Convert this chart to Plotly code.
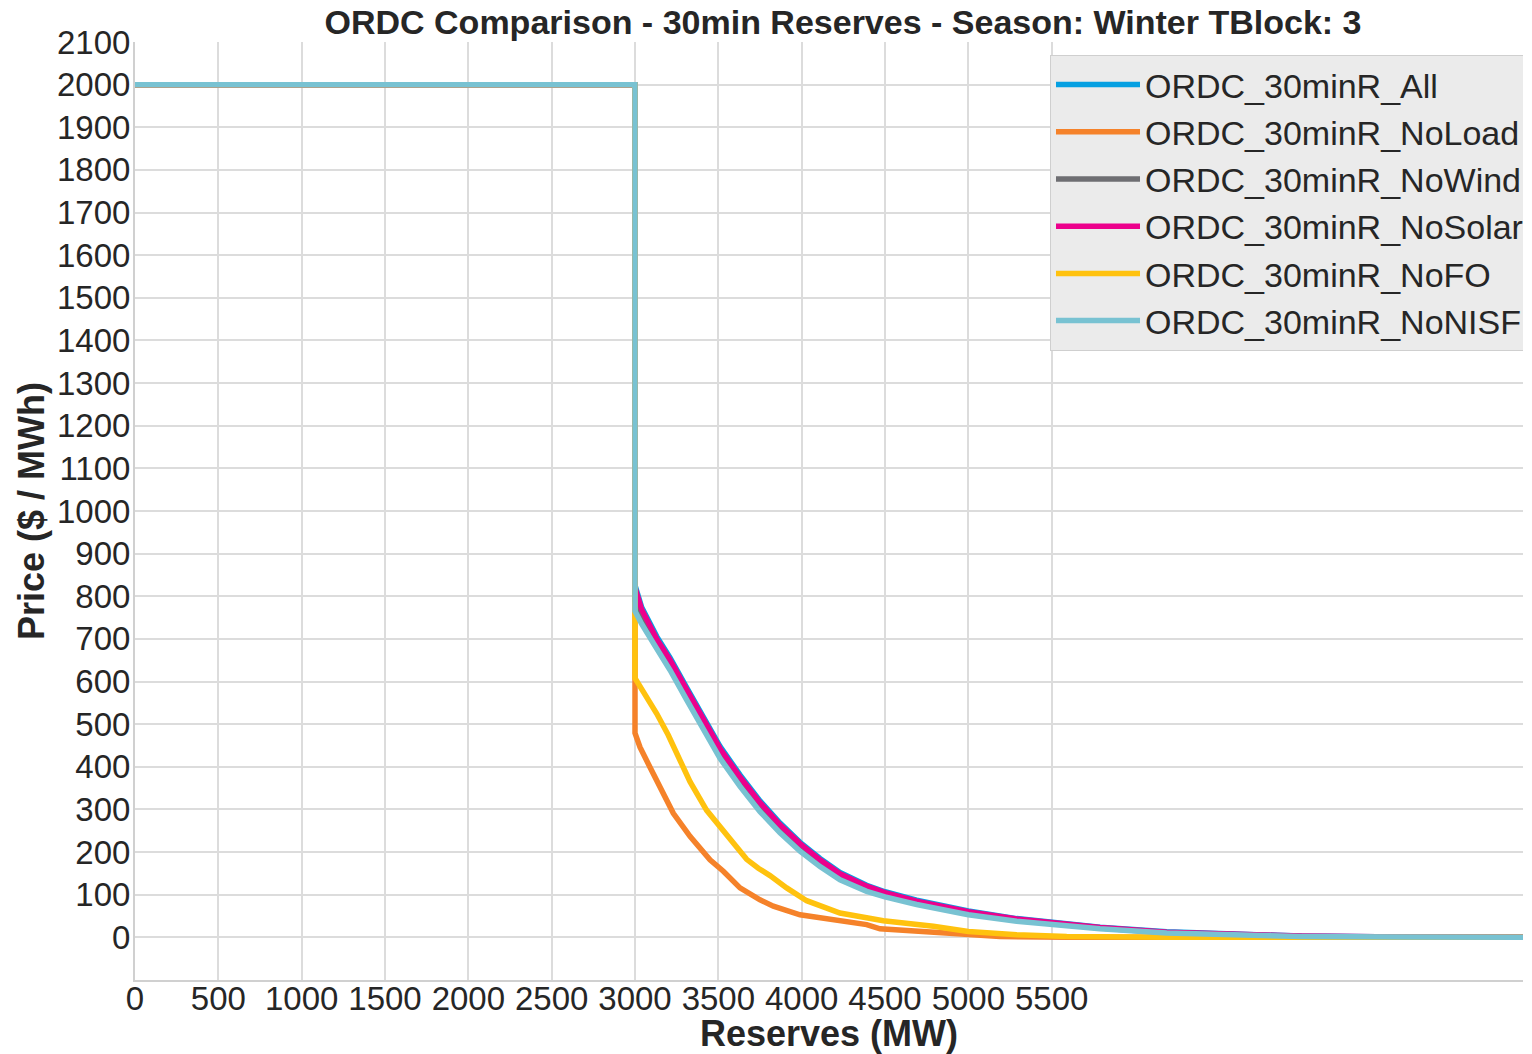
import plotly.graph_objects as go

# ---------------- data ----------------
series_names = ["ORDC_30minR_All", "ORDC_30minR_NoLoad", "ORDC_30minR_NoWind",
                "ORDC_30minR_NoSolar", "ORDC_30minR_NoFO", "ORDC_30minR_NoNISF"]

x_all = [0, 3000, 3000, 3040, 3130, 3210, 3310, 3410, 3510, 3630, 3750, 3870, 3990,
         4110, 4230, 4390, 4500, 4690, 5000, 5290, 5590, 5790, 6190, 6600, 7000, 7600, 8390]
y_all = [2000, 2000, 826, 774, 706, 656, 586, 516, 448, 381, 320, 268, 223,
         185, 152, 122, 107, 87, 62, 44, 31, 24, 13, 7, 3, 1, 0]

x_noload = [0, 3000, 3000, 3030, 3090, 3160, 3230, 3330, 3450, 3530, 3630, 3750, 3830,
            3990, 4190, 4390, 4470, 4790, 5000, 5190, 5600, 6200, 8390]
y_noload = [2000, 2000, 479, 446, 399, 345, 291, 237, 182, 155, 116, 88, 73,
            53, 41, 30, 20, 12, 6, 2, 0.5, 0, 0]

x_nowind = [0, 3000, 3000, 3040, 3130, 3210, 3310, 3410, 3510, 3630, 3750, 3870, 3990,
            4110, 4230, 4390, 4500, 4690, 5000, 5290, 5590, 5790, 6190, 6600, 7000, 7600, 8390]
y_nowind = [2000, 2000, 790, 752, 690, 640, 570, 500, 432, 366, 306, 256, 212,
            175, 143, 115, 101, 82, 57, 41, 28, 22, 11, 6, 2, 1, 0]

x_nosolar = [0, 3000, 3000, 3040, 3130, 3210, 3310, 3410, 3510, 3630, 3750, 3870, 3990,
             4110, 4230, 4390, 4500, 4690, 5000, 5290, 5590, 5790, 6190, 6600, 7000, 7600, 8390]
y_nosolar = [2000, 2000, 820, 769, 700, 651, 581, 511, 443, 376, 316, 264, 220,
             182, 149, 120, 105, 85, 60, 43, 30, 23, 12, 6, 3, 1, 0]

x_nofo = [0, 3000, 3000, 3060, 3130, 3200, 3260, 3330, 3430, 3510, 3590, 3670, 3740, 3810,
          3910, 4030, 4230, 4490, 4790, 5000, 5290, 5590, 6200, 8390]
y_nofo = [2000, 2000, 608, 572, 525, 474, 425, 365, 298, 258, 221, 183, 162, 145,
          116, 86, 57, 39, 26, 14, 6, 2, 0, 0]

x_nonisf = [0, 3000, 3000, 3040, 3110, 3210, 3310, 3410, 3510, 3630, 3750, 3870, 3990,
            4110, 4230, 4390, 4500, 4690, 5000, 5290, 5590, 5790, 6190, 6600, 7000, 7600, 8390]
y_nonisf = [2000, 2000, 765, 735, 690, 627, 557, 487, 420, 354, 295, 245, 202,
            166, 135, 108, 95, 77, 53, 38, 26, 20, 10, 5, 2, 1, 0]

x_ticks = [0, 500, 1000, 1500, 2000, 2500, 3000, 3500, 4000, 4500, 5000, 5500]
y_ticks = list(range(0, 2101, 100))

colors = ["#05a0e2", "#f5822a", "#6e6e72", "#ec008c", "#ffc20e", "#78c2d2"]

xs = [x_all, x_noload, x_nowind, x_nosolar, x_nofo, x_nonisf]
ys = [y_all, y_noload, y_nowind, y_nosolar, y_nofo, y_nonisf]

FONT = "Liberation Sans, Arial, sans-serif"
TXT = "#262626"

# the page body has an 8px margin, so the figure is laid out 8px up/left of screen px
W, H = 1515, 1046
L, T, B = 127, 34, 74
PW, PH = W - L, H - T - B
X_MAX = PW * 6  # keeps 500 MW per 83.3 px, as in the reference

fig = go.Figure()
for name, x, y, c in zip(series_names, xs, ys, colors):
    fig.add_trace(go.Scatter(x=x, y=y, mode="lines", name=name, legendgroup=name,
                             line=dict(color=c, width=5.5)))

fig.update_layout(
    width=W, height=H,
    margin=dict(l=L, r=0, t=T, b=B, pad=0, autoexpand=False),
    paper_bgcolor="white", plot_bgcolor="white",
    font=dict(family=FONT, color=TXT, size=33),
    title=dict(text="ORDC Comparison - 30min Reserves - Season: Winter TBlock: 3",
               font=dict(family=FONT, size=34, weight="bold", color=TXT),
               x=835 / W, xanchor="center", xref="container",
               y=1 - 14 / H, yanchor="middle", yref="container"),
    legend=dict(x=(1042 - L) / PW, y=(T + PH - 47) / PH, xanchor="left", yanchor="top",
                bgcolor="#ebebeb", bordercolor="#cfcfcf", borderwidth=1,
                font=dict(family=FONT, size=34, color=TXT),
                itemwidth=84, tracegroupgap=4, traceorder="normal"),
    showlegend=True,
)

fig.update_xaxes(range=[0, X_MAX], tickvals=x_ticks, ticktext=[str(v) for v in x_ticks],
                 showgrid=True, gridcolor="#dcdcdc", gridwidth=1.5,
                 showline=True, linecolor="#d0d0d0", linewidth=2, automargin=False,
                 zeroline=False, ticks="", ticklabelstandoff=-12,
                 tickfont=dict(size=33, family=FONT, color=TXT),
                 title=dict(text="Reserves (MW)", standoff=2,
                            font=dict(size=36, family=FONT, weight="bold", color=TXT)))
fig.update_yaxes(range=[-100, 2100], tickvals=y_ticks, ticktext=[str(v) for v in y_ticks],
                 showgrid=True, gridcolor="#dcdcdc", gridwidth=1.5,
                 showline=True, linecolor="#d0d0d0", linewidth=2, automargin=False,
                 zeroline=False, ticks="", ticklabelstandoff=-4,
                 tickfont=dict(size=33, family=FONT, color=TXT),
                 title=dict(text="Price ($ / MWh)", standoff=1,
                            font=dict(size=36, family=FONT, weight="bold", color=TXT)))

fig.write_html("out.html")
